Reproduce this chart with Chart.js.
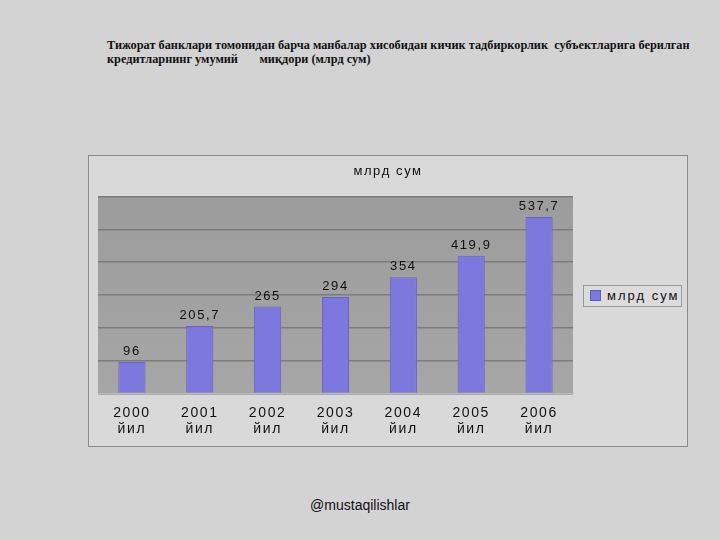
<!DOCTYPE html>
<html lang="uz">
<head>
<meta charset="UTF-8">
<title>млрд сум</title>
<script src="https://cdn.jsdelivr.net/npm/chart.js@4.4.0/dist/chart.umd.min.js"></script>
<style>
  body { margin:0; width:720px; height:540px; background:#d3d3d3; position:relative; overflow:hidden; font-family:"Liberation Sans", Arial, sans-serif; }
  #head { position:absolute; left:107px; top:38px; width:610px; font:bold 12.3px "Liberation Serif", "Times New Roman", serif; line-height:14px; color:#111; white-space:pre; }
  #box { position:absolute; left:88px; top:155px; width:598px; height:290px; border:1px solid #8c8c8c; background:#d9d9d9; }
  #legend { position:absolute; left:583px; top:285px; width:97px; height:20px; border:1px solid #9a9a9a; background:#dcdcdc; font-size:13px; letter-spacing:2px; line-height:20px; color:#111; }
  #legend span { display:inline-block; width:9px; height:9px; background:#7d78de; border:1px solid #5f5bb8; margin:0 6px 0 6px; vertical-align:-1px; }
  #foot { position:absolute; left:0; width:720px; top:497px; text-align:center; font-size:14px; color:#111; }
</style>
</head>
<body>
<div id="head">Тижорат банклари томонидан барча манбалар хисобидан кичик тадбиркорлик  субъектларига берилган
кредитларнинг умумий       миқдори (млрд сум)</div>
<div id="box"><canvas id="myChart" width="598" height="290"></canvas></div>
<div id="legend"><span></span>млрд сум</div>
<div id="foot">@mustaqilishlar</div>
<script>
// данные
var v_years = ["2000", "2001", "2002", "2003", "2004", "2005", "2006"];
var v_values = [96, 205.7, 265, 294, 354, 419.9, 537.7];
var v_seriesName = "млрд сум";
var v_yMax = 600;
var v_yStep = 100;

// подписи: год + "йил" в две строки
var v_labels = v_years.map(function (y) { return [y, "йил"]; });

// разреженный текст, как на картинке
var spacing = {
  id: "spacing",
  beforeInit: function (chart) { chart.ctx.letterSpacing = "1.6px"; },
  beforeDraw: function (chart) { chart.ctx.letterSpacing = "1.6px"; }
};

// серый фон области графика
var plotBg = {
  id: "plotBg",
  beforeDraw: function (chart) {
    var a = chart.chartArea, c = chart.ctx;
    var g = c.createLinearGradient(0, a.top, 0, a.bottom);
    g.addColorStop(0, "#9c9c9c");
    g.addColorStop(1, "#a6a6a6");
    c.save();
    c.fillStyle = g;
    c.fillRect(a.left, a.top, a.right - a.left, a.bottom - a.top);
    c.restore();
  }
};

// значения над столбиками, с запятой
var valueLabels = {
  id: "valueLabels",
  afterDatasetsDraw: function (chart) {
    var c = chart.ctx;
    var meta = chart.getDatasetMeta(0);
    c.save();
    c.font = '13px "Liberation Sans", Arial, sans-serif';
    c.letterSpacing = "1.6px";
    c.fillStyle = "#111";
    c.textAlign = "center";
    c.textBaseline = "bottom";
    meta.data.forEach(function (bar, i) {
      var t = String(v_values[i]).replace(".", ",");
      c.fillText(t, bar.x, bar.y - 4);
    });
    c.restore();
  }
};

const ctx = document.getElementById("myChart").getContext("2d");
const myChart = new Chart(ctx, {
  type: "bar",
  data: {
    labels: v_labels,
    datasets: [{
      label: v_seriesName,
      data: v_values,
      backgroundColor: "#7d78de",
      borderColor: "#6662c4",
      borderWidth: 1,
      categoryPercentage: 1,
      barPercentage: 0.4
    }]
  },
  options: {
    responsive: false,
    animation: false,
    devicePixelRatio: 1,
    layout: { padding: { top: 0, left: 0, right: 0, bottom: 5 } },
    plugins: {
      legend: { display: false },
      tooltip: { enabled: false },
      title: {
        display: true,
        text: v_seriesName,
        color: "#111",
        font: { family: '"Liberation Sans", Arial, sans-serif', size: 13, weight: "normal" },
        padding: { top: 8, bottom: 17 }
      }
    },
    scales: {
      x: {
        grid: { display: false },
        border: { display: true, color: "#bdbdbd" },
        ticks: {
          color: "#111",
          font: { family: '"Liberation Sans", Arial, sans-serif', size: 14 },
          padding: 3,
          maxRotation: 0
        }
      },
      y: {
        min: 0,
        max: v_yMax,
        ticks: { display: false, stepSize: v_yStep },
        border: { display: false },
        grid: { color: "#7c7c7c", lineWidth: 1.5, drawTicks: false },
        afterFit: function (axis) { axis.width = 9; }
      },
      // пустое место справа под легенду
      y2: {
        position: "right",
        min: 0,
        max: v_yMax,
        ticks: { display: false },
        border: { display: false },
        grid: { display: false },
        afterFit: function (axis) { axis.width = 114; }
      }
    }
  },
  plugins: [spacing, plotBg, valueLabels]
});
</script>
</body>
</html>
